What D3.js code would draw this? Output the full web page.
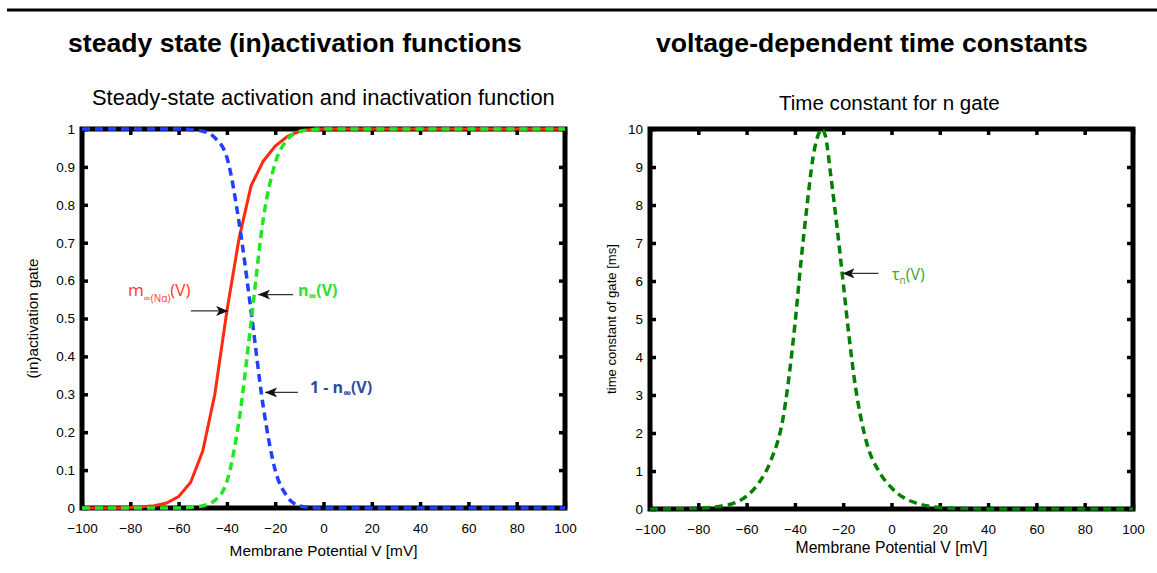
<!DOCTYPE html>
<html>
<head>
<meta charset="utf-8">
<script src="https://cdn.jsdelivr.net/npm/d3@7"></script>
<style>
  html, body { margin: 0; padding: 0; background: #fff; }
  svg { display: block; }
</style>
</head>
<body>
<svg id="chart" width="1157" height="573"></svg>
<script>
// ---------------- DATA ----------------
const voltage = [-100,-95,-90,-85,-80,-75,-70,-65,-60,-55,-50,-45,-40,-35,-30,-25,-20,-15,-10,-5,
                 0,5,10,15,20,25,30,35,40,45,50,55,60,65,70,75,80,85,90,95,100];
// m_inf (solid red)
const mInf = [0,0,0,0,0.001,0.003,0.006,0.013,0.03,0.068,0.15,0.30,0.52,0.71,0.85,0.915,0.955,0.98,0.994,0.999,
              1,1,1,1,1,1,1,1,1,1,1,1,1,1,1,1,1,1,1,1,1];
// n_inf (dashed green)
const nInf = [0,0,0,0,0,0,0,0,0,0.002,0.006,0.02,0.07,0.23,0.49,0.76,0.91,0.972,0.993,0.998,
              1,1,1,1,1,1,1,1,1,1,1,1,1,1,1,1,1,1,1,1,1];
// 1 - n_inf (dashed blue)
const oneMinusN = [1,1,1,1,1,1,1,1,1,0.998,0.994,0.977,0.925,0.755,0.52,0.27,0.10,0.03,0.006,0.001,
                   0,0,0,0,0,0,0,0,0,0,0,0,0,0,0,0,0,0,0,0,0];
// tau_n (dashed dark green)
const tauVoltage = [-100,-90,-80,-75,-70,-65,-60,-55,-50,-45,-40,-37.5,-35,-32.5,-30,-29,-27.5,-25,-22.5,-20,
                    -17.5,-15,-12.5,-10,-5,0,5,10,15,20,25,30,40,50,60,80,100];
const tauN = [0,0.005,0.02,0.04,0.08,0.16,0.34,0.68,1.27,2.36,4.85,6.5,7.97,9.25,9.9,10,9.85,8.7,7.39,5.95,
              4.5,3.25,2.34,1.68,0.97,0.56,0.3,0.16,0.08,0.04,0.02,0.01,0,0,0,0,0];

const xTicks = [-100,-80,-60,-40,-20,0,20,40,60,80,100];
const yTicksLeft = [0,0.1,0.2,0.3,0.4,0.5,0.6,0.7,0.8,0.9,1];
const yTicksRight = [0,1,2,3,4,5,6,7,8,9,10];

// ---------------- DRAW ----------------
const svg = d3.select("#chart");
const FONT = "'Liberation Sans', Arial, Helvetica, sans-serif";
const ANNOT = "'Open Sans', 'DejaVu Sans', sans-serif";

function fitWidth(sel, target) {
  const w = sel.node().getComputedTextLength();
  const fs = parseFloat(sel.attr("font-size"));
  sel.attr("font-size", fs * target / w);
  return sel;
}

// top rule
svg.append("line").attr("x1", 7).attr("x2", 1157).attr("y1", 10).attr("y2", 10)
   .attr("stroke", "#000").attr("stroke-width", 3);

// headings
fitWidth(svg.append("text").attr("x", 68).attr("y", 52).attr("font-family", FONT)
   .attr("font-weight", "bold").attr("font-size", 22).text("steady state (in)activation functions"), 454);
fitWidth(svg.append("text").attr("x", 656).attr("y", 52).attr("font-family", FONT)
   .attr("font-weight", "bold").attr("font-size", 22).text("voltage-dependent time constants"), 432);

fitWidth(svg.append("text").attr("x", 92).attr("y", 104.5).attr("font-family", FONT)
   .attr("font-size", 18).text("Steady-state activation and inactivation function"), 463);
fitWidth(svg.append("text").attr("x", 779).attr("y", 110).attr("font-family", FONT)
   .attr("font-size", 18).text("Time constant for n gate"), 221);

const fmt = d3.format("~g");

function drawFrame(g, x, y, yTicks, xLabel, yLabel, xLabelY, yLabelX, xLabelW, yLabelW) {
  const [x0, x1] = x.range();
  const [y0, y1] = y.range(); // y0 bottom, y1 top
  const tick = 6;
  const axes = [
    {gen: d3.axisBottom(x).tickValues(xTicks).tickFormat(fmt), t: `translate(0,${y0})`, pad: 15},
    {gen: d3.axisTop(x).tickValues(xTicks).tickFormat(""), t: `translate(0,${y1})`, pad: 7},
    {gen: d3.axisLeft(y).tickValues(yTicks).tickFormat(fmt), t: `translate(${x0},0)`, pad: 7},
    {gen: d3.axisRight(y).tickValues(yTicks).tickFormat(""), t: `translate(${x1},0)`, pad: 7}
  ];
  axes.forEach(a => {
    const ag = g.append("g").attr("transform", a.t)
      .call(a.gen.tickSize(-tick).tickPadding(a.pad));
    ag.select(".domain").remove();
    ag.selectAll(".tick line").attr("stroke", "#000").attr("stroke-width", 3.5);
    ag.selectAll("text").attr("font-family", FONT).attr("font-size", 13.5).attr("fill", "#000");
  });
  // frame
  g.append("rect").attr("x", x0).attr("y", y1).attr("width", x1 - x0).attr("height", y0 - y1)
    .attr("fill", "none").attr("stroke", "#000").attr("stroke-width", 5);
  fitWidth(g.append("text").attr("x", (x0 + x1) / 2).attr("y", xLabelY).attr("text-anchor", "middle")
    .attr("font-family", FONT).attr("font-size", 14).text(xLabel), xLabelW);
  fitWidth(g.append("text").attr("transform", `translate(${yLabelX},${(y0 + y1) / 2}) rotate(-90)`)
    .attr("dy", "0.35em").attr("text-anchor", "middle")
    .attr("font-family", FONT).attr("font-size", 13).text(yLabel), yLabelW);
}

// ---- left panel ----
const xL = d3.scaleLinear().domain([-100, 100]).range([82, 565]);
const yL = d3.scaleLinear().domain([0, 1]).range([508, 129]);
const gL = svg.append("g");
drawFrame(gL, xL, yL, yTicksLeft, "Membrane Potential V [mV]", "(in)activation gate", 556, 33, 188, 120);

const lineLin = d3.line().x((d, i) => xL(voltage[i])).y(d => yL(d));
const lineSmooth = d3.line().x((d, i) => xL(voltage[i])).y(d => yL(d)).curve(d3.curveMonotoneX);

gL.append("path").attr("d", lineLin(mInf)).attr("fill", "none")
  .attr("stroke", "#ff2a10").attr("stroke-width", 3);
gL.append("path").attr("d", lineSmooth(oneMinusN)).attr("fill", "none")
  .attr("stroke", "#1e40ff").attr("stroke-width", 3.5).attr("stroke-dasharray", "8,5");
gL.append("path").attr("d", lineSmooth(nInf)).attr("fill", "none")
  .attr("stroke", "#22e622").attr("stroke-width", 3.5).attr("stroke-dasharray", "8,5");

// ---- right panel ----
const xR = d3.scaleLinear().domain([-100, 100]).range([650, 1133]);
const yR = d3.scaleLinear().domain([0, 10]).range([509, 129]);
const gR = svg.append("g");
drawFrame(gR, xR, yR, yTicksRight, "Membrane Potential V [mV]", "time constant of gate [ms]", 553, 611, 192, 150);

const tauLine = d3.line().x((d, i) => xR(tauVoltage[i])).y(d => yR(d)).curve(d3.curveMonotoneX);
gR.append("path").attr("d", tauLine(tauN)).attr("fill", "none")
  .attr("stroke", "#008000").attr("stroke-width", 3.5).attr("stroke-dasharray", "8,5");

// ---- annotations ----
const defs = svg.append("defs");
defs.append("marker").attr("id", "ah").attr("markerUnits", "userSpaceOnUse")
  .attr("markerWidth", 14).attr("markerHeight", 12).attr("refX", 12).attr("refY", 5)
  .attr("orient", "auto")
  .append("path").attr("d", "M0,0 L12,5 L0,10 L3,5 Z").attr("fill", "#111");

function arrow(x, y, v0, v1, val) {
  svg.append("line").attr("x1", x(v0)).attr("x2", x(v1)).attr("y1", y(val)).attr("y2", y(val))
    .attr("stroke", "#333").attr("stroke-width", 1.4).attr("marker-end", "url(#ah)");
}
function label(x0, y0, parts, color, weight) {
  let cx = x0;
  parts.forEach(p => {
    const t = svg.append("text").attr("x", cx).attr("y", y0 + (p.dy || 0))
      .attr("font-family", ANNOT).attr("font-size", p.size).attr("font-weight", weight)
      .attr("fill", color).text(p.t);
    cx += t.node().getComputedTextLength();
  });
}

arrow(xL, yL, -54.9, -39.5, 0.52);
label(128, 296, [{t: "m", size: 17}, {t: "\u221e(N\u03b1)", size: 10, dy: 6}, {t: "(V)", size: 17}], "#ff3b1f", "normal");

arrow(xL, yL, -12.6, -27.1, 0.563);
label(298, 296, [{t: "n", size: 16}, {t: "\u221e", size: 11, dy: 4}, {t: "(V)", size: 16}], "#2ee02e", "bold");

arrow(xL, yL, -10.6, -24.2, 0.305);
label(310, 393, [{t: "1 - n", size: 16}, {t: "\u221e", size: 11, dy: 4}, {t: "(V)", size: 16}], "#2d4d9e", "bold");

arrow(xR, yR, -5.4, -20.3, 6.2);
label(892, 280, [{t: "\u03c4", size: 16}, {t: "n", size: 10, dy: 4}, {t: "(V)", size: 16}], "#3aa53a", "normal");
</script>
</body>
</html>
